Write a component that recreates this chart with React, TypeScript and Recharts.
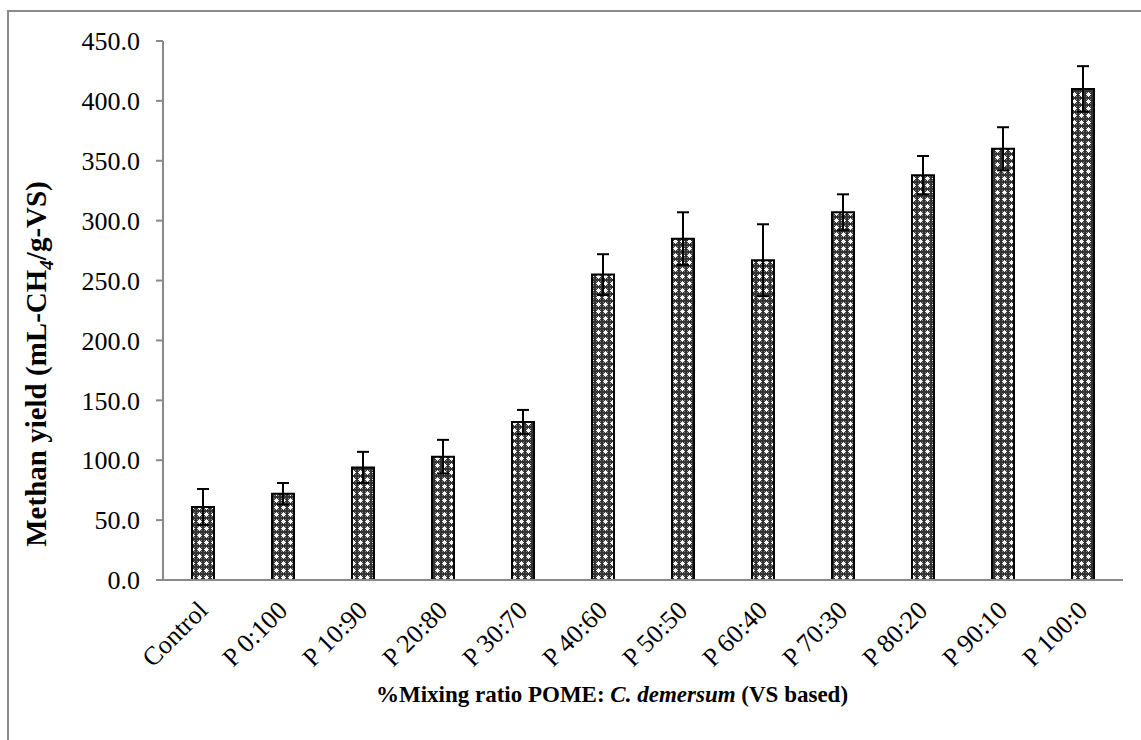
import React from "react";
import { Bar, BarChart, ErrorBar, XAxis, YAxis } from "recharts";

// categories and readings (mean methane yield + std. deviation)
const ratios = ["Control", "P 0:100", "P 10:90", "P 20:80", "P 30:70", "P 40:60", "P 50:50", "P 60:40", "P 70:30", "P 80:20", "P 90:10", "P 100:0"];
const yields = [61, 72, 94, 103, 132, 255, 285, 267, 307, 338, 360, 410];
const errors = [15, 9, 13, 14, 10, 17, 22, 30, 15, 16, 18, 19];
const yTicks = [0, 50, 100, 150, 200, 250, 300, 350, 400, 450];

const data = ratios.map((name, i) => ({ name, value: yields[i], err: errors[i] }));

const FONT = '"Liberation Serif", "Times New Roman", serif';

const RatioTick = (props: any) => {
    const { x, y, payload } = props;
    return (
        <g transform={`translate(${x + 6},${y + 24})`}>
            <text
                x={0}
                y={0}
                textAnchor="end"
                transform="rotate(-45)"
                fontFamily={FONT}
                fontSize={26}
                fill="#000"
            >
                {payload.value}
            </text>
        </g>
    );
};

export default function App() {
    return (
        <div style={{ position: "absolute", left: 0, top: 0, width: 1141, height: 740, background: "#fff", fontFamily: FONT, overflow: "hidden" }}>
            {/* pattern used by the bars */}
            <svg width={0} height={0} style={{ position: "absolute" }}>
                <defs>
                    <pattern id="crossHatch" width={7} height={7} patternUnits="userSpaceOnUse">
                        <rect width={7} height={7} fill="#333" />
                        <rect x={1} y={1} width={1} height={1} fill="#888" />
                        <rect x={5} y={1} width={1} height={1} fill="#888" />
                        <rect x={1} y={5} width={1} height={1} fill="#888" />
                        <rect x={5} y={5} width={1} height={1} fill="#888" />
                        <rect x={3} y={1} width={1} height={5} fill="#f2f2f2" />
                        <rect x={1} y={3} width={5} height={1} fill="#f2f2f2" />
                        <rect x={2} y={2} width={3} height={3} fill="#f2f2f2" />
                    </pattern>
                </defs>
            </svg>

            <div style={{ position: "absolute", left: 7, top: 10, width: 1200, height: 800, borderLeft: "2px solid #8a8a8a", borderTop: "2px solid #8a8a8a" }} />

            <div style={{ position: "absolute", left: 0, top: 0 }}>
                <BarChart
                    width={1141}
                    height={740}
                    data={data}
                    margin={{ top: 41, right: 18, left: 83, bottom: 60 }}
                    barCategoryGap={0}
                >
                    <XAxis
                        dataKey="name"
                        axisLine={{ stroke: "#8a8a8a", strokeWidth: 2 }}
                        tickLine={false}
                        height={100}
                        interval={0}
                        tick={<RatioTick />}
                    />
                    <YAxis
                        width={80}
                        domain={[0, 450]}
                        ticks={yTicks}
                        interval={0}
                        allowDataOverflow
                        tickFormatter={(v: number) => v.toFixed(1)}
                        axisLine={{ stroke: "#8a8a8a", strokeWidth: 2 }}
                        tickLine={{ stroke: "#8a8a8a", strokeWidth: 2 }}
                        tickSize={7}
                        tickMargin={16}
                        tick={{ fill: "#000", fontFamily: FONT, fontSize: 26 }}
                    />
                    <Bar
                        dataKey="value"
                        barSize={22}
                        fill="url(#crossHatch)"
                        stroke="#000"
                        strokeWidth={2}
                        isAnimationActive={false}
                    >
                        <ErrorBar dataKey="err" width={6} stroke="#000" strokeWidth={2} />
                    </Bar>
                </BarChart>
            </div>

            <div
                style={{
                    position: "absolute",
                    left: 39,
                    top: 364,
                    transform: "translate(-50%, -50%) rotate(-90deg)",
                    whiteSpace: "nowrap",
                    fontWeight: "bold",
                    fontSize: 29,
                    color: "#000",
                }}
            >
                Methan yield (mL-CH<sub style={{ fontStyle: "italic", fontSize: 19 }}>4</sub>/g-VS)
            </div>

            <div
                style={{
                    position: "absolute",
                    left: 612,
                    top: 695,
                    transform: "translate(-50%, -50%)",
                    whiteSpace: "nowrap",
                    fontWeight: "bold",
                    fontSize: 23,
                    color: "#000",
                }}
            >
                %Mixing ratio POME: <i>C. demersum</i> (VS based)
            </div>
        </div>
    );
}
